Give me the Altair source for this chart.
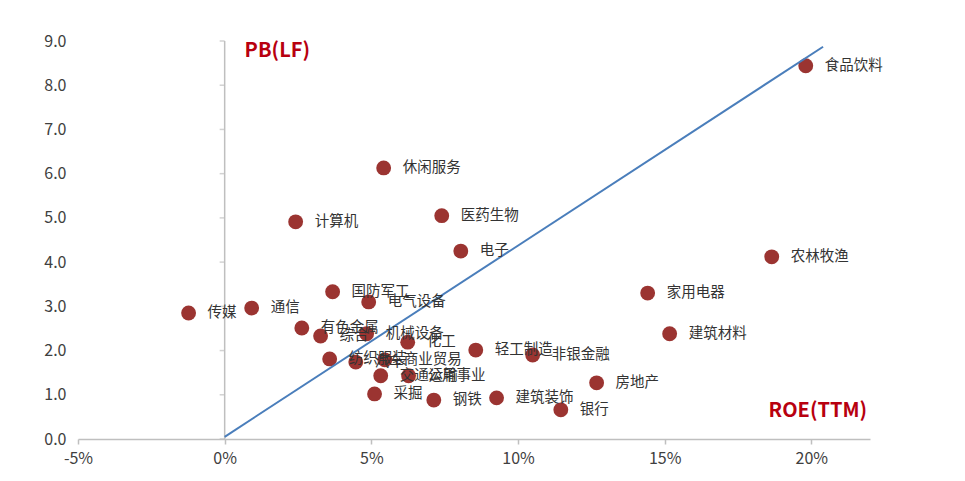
import altair as alt
import pandas as pd

names = ["食品饮料", "休闲服务", "计算机", "医药生物", "电子", "农林牧渔", "家用电器", "建筑材料",
         "传媒", "通信", "国防军工", "电气设备", "有色金属", "综合", "机械设备", "化工",
         "轻工制造", "非银金融", "纺织服装", "汽车", "商业贸易", "交通运输", "公用事业",
         "采掘", "钢铁", "建筑装饰", "银行", "房地产"]
roe = [19.81, 5.42, 2.42, 7.40, 8.05, 18.65, 14.42, 15.17,
       -1.23, 0.92, 3.68, 4.91, 2.63, 3.27, 4.84, 6.24,
       8.56, 10.50, 3.58, 4.47, 5.46, 5.32, 6.27,
       5.11, 7.13, 9.27, 11.46, 12.68]
pb = [8.44, 6.13, 4.91, 5.05, 4.25, 4.12, 3.30, 2.38,
      2.85, 2.96, 3.33, 3.10, 2.51, 2.33, 2.38, 2.19,
      2.01, 1.90, 1.81, 1.74, 1.79, 1.43, 1.43,
      1.02, 0.88, 0.93, 0.66, 1.27]

trend_x = [0.0, 20.4]
trend_y = [0.05, 8.87]

x_ticks = [-5, 0, 5, 10, 15, 20]
y_ticks = [0, 1, 2, 3, 4, 5, 6, 7, 8, 9]

title_text = ["PB(LF)", "ROE(TTM)"]
title_roe = [0.68, 21.9]
title_pb = [8.78, 0.63]

FONT = "Noto Sans CJK SC"
AXIS_GRAY = "#BFBFBF"
DOT = "#9B3431"
DARKRED = "#B8000F"

pts = pd.DataFrame({"name": names, "roe": roe, "pb": pb})
trend = pd.DataFrame({"roe": trend_x, "pb": trend_y})
ytk = pd.DataFrame({"roe": [0] * len(y_ticks), "pb": y_ticks})
vaxis = pd.DataFrame({"roe": [0], "pb": [0], "pb2": [9]})

xscale = alt.Scale(domain=[-5, 22], nice=False, zero=False)
yscale = alt.Scale(domain=[0, 9], nice=False)

xenc = alt.X("roe:Q", scale=xscale, title=None,
             axis=alt.Axis(values=x_ticks, labelExpr="datum.value + '%'", grid=False,
                           domainColor=AXIS_GRAY, domainWidth=1.5, tickColor=AXIS_GRAY,
                           tickSize=5, tickWidth=1.5, labelFontSize=16, labelFont=FONT,
                           labelColor="#404040", labelPadding=6, labelFlush=False))
yenc = alt.Y("pb:Q", scale=yscale, title=None,
             axis=alt.Axis(values=y_ticks, format=".1f", grid=False, domain=False,
                           ticks=False, labelFontSize=16, labelFont=FONT,
                           labelColor="#404040", labelPadding=12, labelFlush=False))

X = alt.X("roe:Q", scale=xscale)
Y = alt.Y("pb:Q", scale=yscale)

vline = alt.Chart(vaxis).mark_rule(color=AXIS_GRAY, strokeWidth=1.5).encode(
    x=xenc, y=yenc, y2="pb2:Q")
vticks = alt.Chart(ytk).mark_tick(color=AXIS_GRAY, orient="horizontal", size=5,
                                  thickness=1.5, xOffset=-2.5).encode(x=X, y=Y)

dots = alt.Chart(pts).mark_circle(size=220, color=DOT, opacity=1).encode(x=X, y=Y)

line = alt.Chart(trend).mark_line(color="#4A7EBB", strokeWidth=2).encode(x=X, y=Y)

labels = alt.Chart(pts).mark_text(align="left", baseline="middle", dx=19, fontSize=14.5,
                                  font=FONT, color="#333333").encode(x=X, y=Y, text="name:N")

tdf_l = pd.DataFrame({"roe": [title_roe[0]], "pb": [title_pb[0]], "t": [title_text[0]]})
tdf_r = pd.DataFrame({"roe": [title_roe[1]], "pb": [title_pb[1]], "t": [title_text[1]]})

tl_left = alt.Chart(tdf_l).mark_text(
    align="left", baseline="middle", fontSize=20, fontWeight="bold",
    font=FONT, color=DARKRED).encode(x=X, y=Y, text="t:N")
tl_right = alt.Chart(tdf_r).mark_text(
    align="right", baseline="middle", fontSize=20, fontWeight="bold",
    font=FONT, color=DARKRED).encode(x=X, y=Y, text="t:N")

chart = alt.layer(vline, vticks, dots, line, labels, tl_left, tl_right).properties(
    width=792, height=398,
    autosize=alt.AutoSizeParams(type="none"),
    padding={"left": 78, "top": 41, "right": 95, "bottom": 42},
    background="white",
).configure_view(stroke=None)

chart.save("out.html", embed_options={"renderer": "svg", "actions": False})
